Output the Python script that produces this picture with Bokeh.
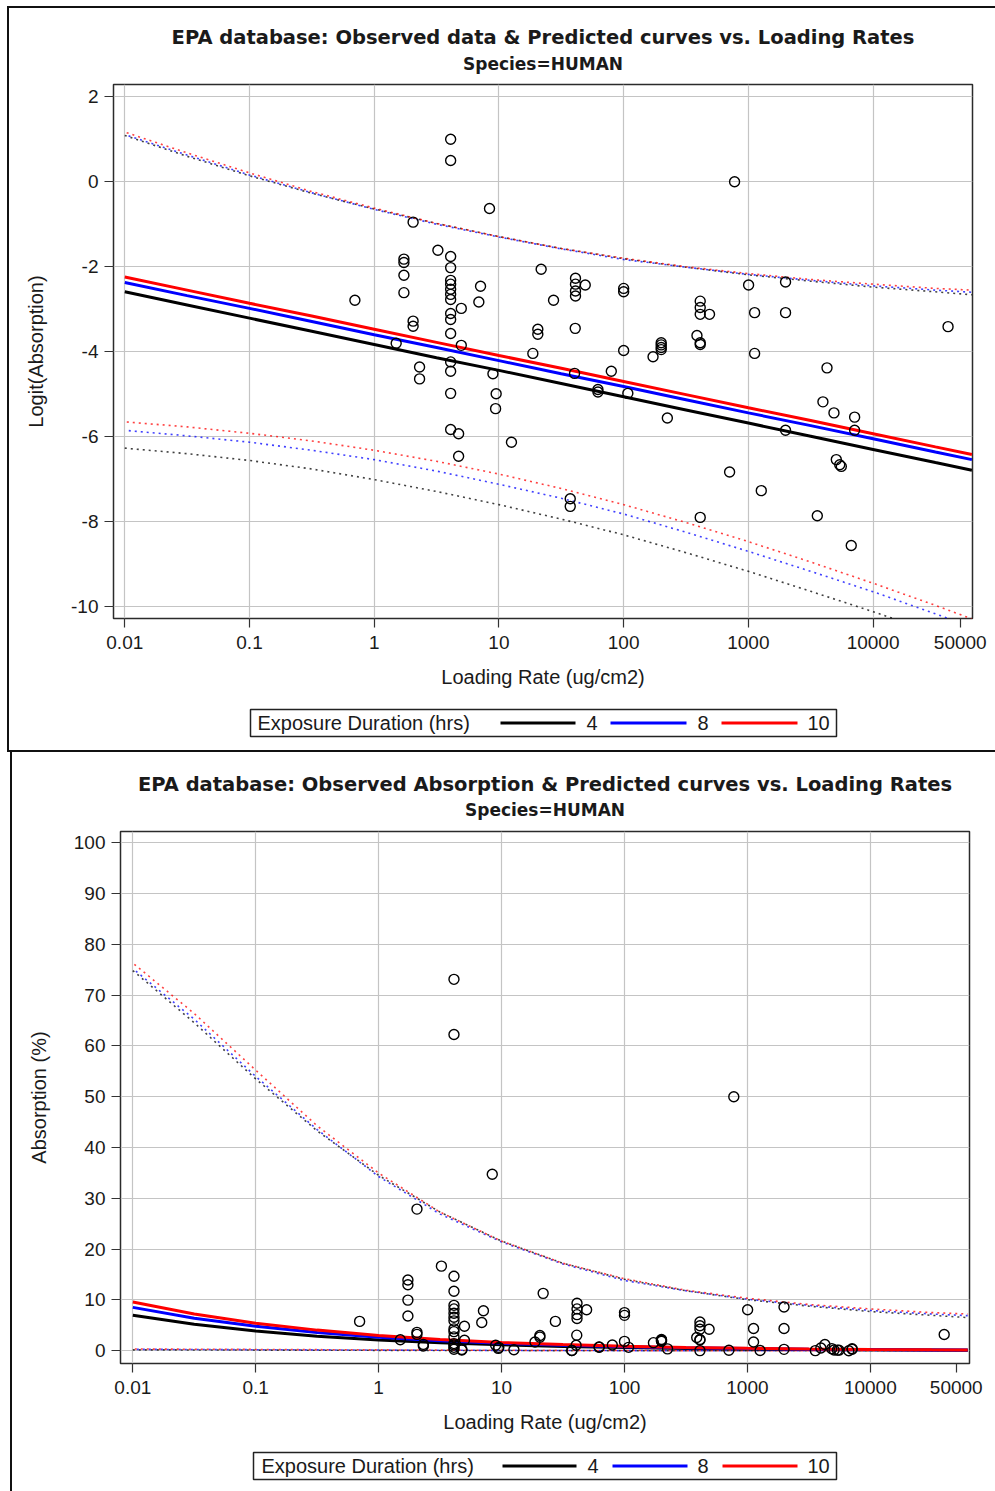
import math
from bokeh.plotting import figure
from bokeh.models import Range1d, FixedTicker, CustomJSTickFormatter, InlineStyleSheet
from bokeh.core.properties import value
from bokeh.layouts import column
from bokeh.embed import file_html
from bokeh.resources import INLINE

# ---------------- data ----------------
# observed data: loading rate (ug/cm2) and logit(absorption)
obs_rate = [0.70, 1.50, 1.73, 1.73, 1.73, 1.73, 2.05, 2.05, 2.05, 2.31, 2.31, 3.24,
            4.1, 4.1, 4.1, 4.1, 4.1, 4.1, 4.1, 4.1, 4.1, 4.1, 4.1, 4.1, 4.1, 4.1, 4.1, 4.1,
            4.75, 4.75, 4.99, 4.99, 6.9, 7.12, 8.4, 8.95, 9.4, 9.5, 12.6, 18.7, 20.5, 20.5,
            21.8, 27.4, 37.3, 37.3, 40.4, 40.9, 41.1, 41.1, 41.1, 41.1, 49.2, 62.2, 62.2,
            79.6, 100, 100, 100, 108, 172, 200, 200, 200, 200, 224, 387, 411, 411, 411,
            411, 411, 411, 488, 707, 775, 1004, 1122, 1122, 1269, 1986, 1986, 1986, 3570,
            3960, 4270, 4855, 5070, 5400, 5560, 6680, 7110, 7110, 39900]
obs_logit = [-2.79, -3.80, -1.82, -1.90, -2.20, -2.61, -0.95, -3.28, -3.40, -4.36, -4.64, -1.61,
             1.00, 0.50, -1.76, -2.02, -2.32, -2.41, -2.53, -2.65, -2.77, -3.10, -3.24, -3.57,
             -4.24, -4.46, -4.98, -5.83,
             -5.93, -6.46, -2.98, -3.85, -2.83, -2.46, -0.63, -4.52, -5.34, -4.99, -6.13, -4.04,
             -3.47, -3.59, -2.06, -2.79, -7.46, -7.64, -4.51, -3.45, -2.27, -2.41, -2.57, -2.69,
             -2.43, -4.89, -4.95, -4.46, -2.51, -2.59, -3.97, -4.98, -4.12, -3.79, -3.84, -3.90,
             -3.95, -5.56, -3.62, -2.81, -2.96, -3.12, -3.79, -3.83, -7.90, -3.12, -6.83, 0.00,
             -2.43, -3.08, -4.04, -7.27, -2.36, -3.08, -5.85, -7.86, -5.18, -4.38, -5.44, -6.54,
             -6.66, -6.70, -8.56, -5.54, -5.85, -3.41]

# predicted curves and limits (logit scale), by exposure duration
curve_rate = [0.01, 0.0316, 0.1, 0.316, 1, 3.16, 10, 31.6, 100, 316, 1000, 3160,
              10000, 31600, 62000]
pred_logit_4 = [-2.59, -2.90, -3.21, -3.52, -3.83, -4.14, -4.44, -4.75, -5.06, -5.37,
                -5.68, -5.99, -6.30, -6.61, -6.79]
pred_logit_8 = [-2.37, -2.68, -2.98, -3.29, -3.60, -3.90, -4.21, -4.52, -4.82, -5.13,
                -5.44, -5.74, -6.05, -6.36, -6.54]
pred_logit_10 = [-2.24, -2.55, -2.86, -3.16, -3.47, -3.78, -4.09, -4.39, -4.70, -5.01,
                 -5.32, -5.62, -5.93, -6.24, -6.42]
lower_logit_4 = [-6.27, -6.40, -6.56, -6.76, -7.01, -7.29, -7.60, -7.94, -8.31, -8.73,
                 -9.17, -9.64, -10.12, -10.62, -10.92]
lower_logit_8 = [-5.85, -5.98, -6.13, -6.32, -6.54, -6.81, -7.12, -7.45, -7.82, -8.25,
                 -8.70, -9.17, -9.65, -10.17, -10.48]
lower_logit_10 = [-5.65, -5.77, -5.92, -6.10, -6.32, -6.58, -6.88, -7.22, -7.60, -8.02,
                  -8.47, -8.95, -9.45, -9.97, -10.29]
upper_logit_4 = [1.09, 0.60, 0.14, -0.27, -0.64, -0.98, -1.29, -1.57, -1.81, -2.01,
                 -2.19, -2.34, -2.48, -2.59, -2.66]
upper_logit_8 = [1.11, 0.63, 0.16, -0.26, -0.65, -1.00, -1.30, -1.58, -1.83, -2.01,
                 -2.18, -2.32, -2.45, -2.55, -2.60]
upper_logit_10 = [1.17, 0.68, 0.21, -0.23, -0.62, -0.98, -1.29, -1.57, -1.80, -2.00,
                  -2.16, -2.30, -2.41, -2.51, -2.55]

durations = ["4", "8", "10"]
duration_colors = ["#000000", "#0000ff", "#ff0000"]

x_tick_values = [0.01, 0.1, 1, 10, 100, 1000, 10000, 50000]
x_tick_labels = ["0.01", "0.1", "1", "10", "100", "1000", "10000", "50000"]
x_grid_values = [0.01, 0.1, 1, 10, 100, 1000, 10000]
logit_ticks = [-10, -8, -6, -4, -2, 0, 2]
pct_ticks = [0, 10, 20, 30, 40, 50, 60, 70, 80, 90, 100]

title_top = "EPA database: Observed data & Predicted curves vs. Loading Rates"
title_bottom = "EPA database: Observed Absorption & Predicted curves vs. Loading Rates"
subtitle = "Species=HUMAN"
x_label = "Loading Rate (ug/cm2)"
legend_title = "Exposure Duration (hrs)"


def to_pct(values):
    # logit -> percent (same observations on the percent scale)
    return [100.0 / (1.0 + math.exp(-v)) for v in values]


TXT = "#1a1a1a"
FONT = "Liberation Sans"
TFONT = "DejaVu Sans"
W = 995


def strip(height, fl, fr):
    """Drawing strip: frame spans canvas pixels fl..W-fr horizontally and the full
    height; data coordinates equal canvas pixels (y pointing down)."""
    s = figure(width=W, height=height, x_range=Range1d(fl, W - fr),
               y_range=Range1d(height, 0), output_backend="svg",
               toolbar_location=None, title=None, x_axis_location=None,
               y_axis_location=None, min_border_left=fl, min_border_right=fr,
               min_border_top=0, min_border_bottom=0)
    s.grid.visible = False
    s.outline_line_color = None
    s.background_fill_color = "white"
    s.border_fill_color = "white"
    return s


def title_strip(height, fl, fr, main_title, main_mid, sub_mid):
    s = strip(height, fl, fr)
    cx = (fl + W - fr) / 2.0
    s.text(x=[cx], y=[main_mid], text=[main_title], text_font=value(TFONT),
           text_font_size=value("19.5px"), text_font_style="bold", text_color=TXT,
           text_align="center", text_baseline="middle")
    s.text(x=[cx], y=[sub_mid], text=[subtitle], text_font=value(TFONT),
           text_font_size=value("17px"), text_font_style="bold", text_color=TXT,
           text_align="center", text_baseline="middle")
    return s


def legend_strip(height, fl, fr, box, title_x, samples, label_xs):
    s = strip(height, fl, fr)
    bl, br, bt, bb = box
    cy = (bt + bb) / 2.0
    s.quad(left=[bl], right=[br], top=[bt], bottom=[bb], fill_color="white",
           line_color="#222222", line_width=1.5)
    s.text(x=[title_x], y=[cy], text=[legend_title], text_font=value(FONT),
           text_font_size=value("20px"), text_color=TXT, text_baseline="middle")
    s.segment(x0=[a for a, b in samples], x1=[b for a, b in samples],
              y0=[cy] * 3, y1=[cy] * 3, line_color=duration_colors, line_width=3)
    s.text(x=label_xs, y=[cy] * 3, text=durations, text_font=value(FONT),
           text_font_size=value("20px"), text_color=TXT, text_baseline="middle")
    return s


def build(height, frame, xr, yr, yticks, ylabel, transform):
    left, top, right, bottom = frame
    p = figure(width=W, height=height, x_axis_type="log",
               x_range=Range1d(*xr), y_range=Range1d(*yr),
               output_backend="svg", toolbar_location=None, title=None,
               min_border_left=left, min_border_top=top,
               min_border_right=right, min_border_bottom=bottom)
    p.background_fill_color = "white"
    p.border_fill_color = "white"
    p.outline_line_color = "#2b2b2b"
    p.outline_line_width = 1.5

    xa, ya = p.xaxis[0], p.yaxis[0]
    xa.ticker = FixedTicker(ticks=x_tick_values)
    xa.formatter = CustomJSTickFormatter(
        args=dict(vals=x_tick_values, labs=x_tick_labels),
        code="""
        for (let i = 0; i < vals.length; i++) {
            if (Math.abs(vals[i] - tick) <= 1e-6 * Math.abs(vals[i])) return labs[i];
        }
        return '';
        """)
    ya.ticker = FixedTicker(ticks=yticks)
    ya.formatter = CustomJSTickFormatter(code="return tick.toString();")
    p.xgrid.ticker = FixedTicker(ticks=x_grid_values)
    xa.axis_label = x_label
    ya.axis_label = ylabel
    for ax in (xa, ya):
        ax.axis_line_color = None
        ax.major_tick_out = 9
        ax.major_tick_in = 0
        ax.major_tick_line_color = "#333333"
        ax.major_tick_line_width = 1.2
        ax.minor_tick_line_color = None
        ax.major_label_text_font = FONT
        ax.major_label_text_font_size = "19px"
        ax.major_label_text_color = TXT
        ax.axis_label_text_font = FONT
        ax.axis_label_text_font_size = "20px"
        ax.axis_label_text_font_style = "normal"
        ax.axis_label_text_color = TXT
    xa.major_label_standoff = 8
    xa.axis_label_standoff = 14
    ya.major_label_standoff = 6
    ya.axis_label_standoff = 21
    for g in (p.xgrid[0], p.ygrid[0]):
        g.grid_line_color = "#c4c4c4"
        g.grid_line_width = 1.2

    preds = [pred_logit_4, pred_logit_8, pred_logit_10]
    lows = [lower_logit_4, lower_logit_8, lower_logit_10]
    ups = [upper_logit_4, upper_logit_8, upper_logit_10]
    for i, (lo, up, col) in enumerate(zip(lows, ups, duration_colors)):
        for band in (lo, up):
            p.line(curve_rate, transform(band), line_color=col, line_width=1.6,
                   line_alpha=0.75, line_dash="2 4", line_dash_offset=2 * i)
    for pr, col in zip(preds, duration_colors):
        p.line(curve_rate, transform(pr), line_color=col, line_width=3)

    p.scatter(obs_rate, transform(obs_logit), marker="circle", size=10,
              fill_color=None, line_color="black", line_width=1.4)
    return p


identity = lambda v: list(v)

# ---- top panel: page y 0..752 (frame x 113..972, y 84..618) ----
t1 = title_strip(80, 113, 23, title_top, 37, 63.5)
p1 = build(620, (113, 4, 23, 82), (0.00812, 62660), (-10.28, 2.29),
           logit_ticks, "Logit(Absorption)", identity)
l1 = legend_strip(52, 113, 23, (250, 836, 9, 36), 257,
                  [(500, 575), (610, 686), (721, 797)], [586, 697, 807])

# ---- bottom panel: page y 752..1491 (frame x 120..969, y 831..1363) ----
t2 = title_strip(75, 120, 26, title_bottom, 32, 57.5)
p2 = build(617, (120, 4, 26, 81), (0.00794, 64100), (-2.5, 102.2),
           pct_ticks, "Absorption (%)", to_pct)
l2 = legend_strip(47, 120, 26, (253, 836, 8, 35), 261,
                  [(502, 576), (612, 687), (722, 797)], [587, 697, 807])

top_css = InlineStyleSheet(css="""
:host { position: relative; }
:host::after { content: ""; position: absolute; left: 7px; top: 6px; right: 0px; bottom: 0px;
  border-left: 2px solid #111; border-top: 2px solid #111; border-bottom: 2px solid #111;
  pointer-events: none; z-index: 10; }
""")
bottom_css = InlineStyleSheet(css="""
:host { position: relative; }
:host::after { content: ""; position: absolute; left: 10px; top: 0px; right: 0px; bottom: 0px;
  border-left: 2px solid #111; pointer-events: none; z-index: 10; }
""")

top = column(t1, p1, l1, spacing=0, stylesheets=[top_css])
bottom = column(t2, p2, l2, spacing=0, stylesheets=[bottom_css])
page = column(top, bottom, spacing=0)
open("out.html", "w").write(file_html(page, INLINE))
